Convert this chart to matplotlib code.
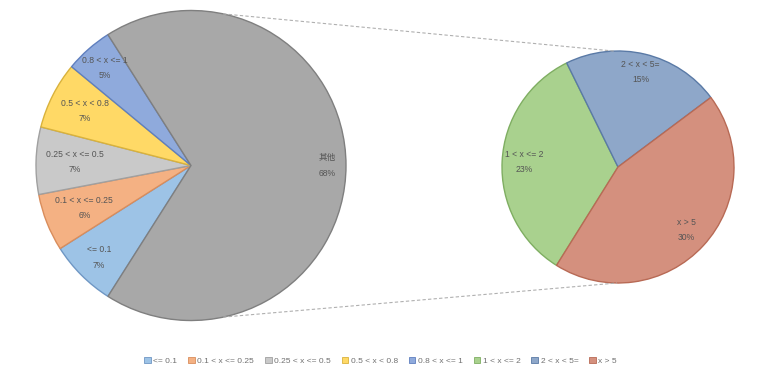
import numpy as np
import matplotlib.pyplot as plt
from matplotlib.patches import Patch

plt.rcParams['font.family'] = ['Liberation Sans', 'Noto Sans CJK SC', 'DejaVu Sans']

# left pie: small ranges plus the aggregated "other" slice
main_labels = ['<= 0.1', '0.1 < x <= 0.25', '0.25 < x <= 0.5', '0.5 < x < 0.8', '0.8 < x <= 1', '其他']
main_values = [7, 6, 7, 7, 5, 68]
main_colors = ['#9dc3e6', '#f4b183', '#c9c9c9', '#ffd966', '#8faadc', '#a8a8a8']
main_edges = ['#6f97c4', '#d98d5c', '#a0a0a0', '#d9b23c', '#5f7fbf', '#7f7f7f']

# right pie: breakdown of "other"
sub_labels = ['1 < x <= 2', '2 < x < 5=', 'x > 5']
sub_values = [23, 15, 30]
sub_colors = ['#a9d18e', '#8ea7c9', '#d4907e']
sub_edges = ['#7fae62', '#5a7aa6', '#b86a55']

W, H = 761, 377
fig = plt.figure(figsize=(W / 100, H / 100), dpi=100)
ax = fig.add_axes([0, 0, 1, 1])
ax.set_xlim(0, W)
ax.set_ylim(0, H)
ax.set_aspect('equal')
ax.axis('off')

c1, r1 = (191, 211.5), 155
c2, r2 = (618, 210), 116
txt_color = '#555555'


def draw_pie(values, labels, colors, edges, center, radius, start, dists):
    wedges, _ = ax.pie(values, colors=colors, center=center, radius=radius,
                       startangle=start, counterclock=False,
                       wedgeprops=dict(linewidth=1.0))
    total = 100.0
    for w, ec, lab, v, d in zip(wedges, edges, labels, values, dists):
        w.set_edgecolor(ec)
        mid = np.deg2rad((w.theta1 + w.theta2) / 2)
        x = center[0] + d * radius * np.cos(mid)
        y = center[1] + d * radius * np.sin(mid)
        ax.text(x, y, f'{lab}\n{v / total:.0%}', ha='center', va='center',
                fontsize=6.2, color=txt_color, linespacing=1.9)
    return wedges


other_frac = main_values[-1] / sum(main_values)
w1 = draw_pie(main_values, main_labels, main_colors, main_edges, c1, r1,
              -180 * other_frac, [0.84, 0.74, 0.75, 0.77, 0.84, 0.88])
w2 = draw_pie(sub_values, sub_labels, sub_colors, sub_edges, c2, r2,
              238, [0.81, 0.84, 0.80])

# dashed connector lines between the two pies
for a1, a2 in [(78, 92), (-78, -90.5)]:
    p1 = (c1[0] + r1 * np.cos(np.deg2rad(a1)), c1[1] + r1 * np.sin(np.deg2rad(a1)))
    p2 = (c2[0] + r2 * np.cos(np.deg2rad(a2)), c2[1] + r2 * np.sin(np.deg2rad(a2)))
    ax.plot([p1[0], p2[0]], [p1[1], p2[1]], ls=(0, (3, 2)), color='#b0b0b0', lw=0.8)

ax.set_xlim(0, W)
ax.set_ylim(0, H)

handles = [Patch(facecolor=c, edgecolor=e, lw=0.6)
           for c, e in zip(main_colors[:-1] + sub_colors, main_edges[:-1] + sub_edges)]
leg_labels = main_labels[:-1] + sub_labels
fig.legend(handles, leg_labels, loc='center', bbox_to_anchor=(0.5, 16 / H), ncol=8,
           frameon=False, fontsize=6, handlelength=0.8, handleheight=0.8,
           handletextpad=0.3, columnspacing=1.3, labelcolor='#707070')

fig.savefig('out.png', dpi=100)
